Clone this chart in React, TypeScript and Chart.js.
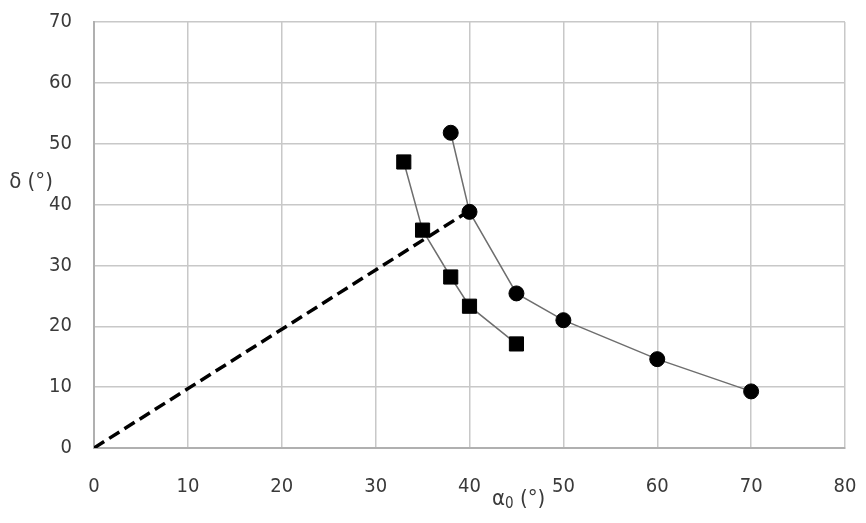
import { useEffect, useRef } from "react";
import { Chart, registerables, type Plugin } from "chart.js";

Chart.register(...registerables);

const circleX = [38, 40, 45, 50, 60, 70];
const circleY = [51.8, 38.8, 25.4, 21.0, 14.6, 9.3];
const squareX = [33, 35, 38, 40, 45];
const squareY = [47.0, 35.8, 28.1, 23.3, 17.1];
const dashX = [0, 40];
const dashY = [0, 39];

const FONT = "'Liberation Sans Narrow', 'DejaVu Sans Condensed', 'Liberation Sans', sans-serif";
const TEXT = "#3a3a3a";

const pts = (xs: number[], ys: number[]) => xs.map((x, i) => ({ x, y: ys[i] }));

// axis titles sit in odd spots in the original, so draw them by hand
const titles: Plugin<"scatter"> = {
  id: "titles",
  afterDraw(chart) {
    const { ctx, chartArea, scales } = chart;
    ctx.save();
    ctx.fillStyle = TEXT;
    ctx.textBaseline = "middle";
    ctx.font = `22px ${FONT}`;
    ctx.textAlign = "center";
    ctx.fillText("δ (°)", 31, scales.y.getPixelForValue(43.6));

    const x0 = scales.x.getPixelForValue(42.4);
    const y0 = chartArea.bottom + 51;
    ctx.textAlign = "left";
    ctx.fillText("α", x0, y0);
    const aw = ctx.measureText("α").width;
    ctx.font = `15px ${FONT}`;
    ctx.fillText("0", x0 + aw, y0 + 5);
    const zw = ctx.measureText("0").width;
    ctx.font = `22px ${FONT}`;
    ctx.fillText(" (°)", x0 + aw + zw, y0);
    ctx.restore();
  },
};

export default function App() {
  const canvasRef = useRef<HTMLCanvasElement>(null);
  const chartRef = useRef<Chart<"scatter"> | null>(null);

  useEffect(() => {
    if (!canvasRef.current) return;

    chartRef.current = new Chart(canvasRef.current, {
      type: "scatter",
      data: {
        datasets: [
          {
            data: pts(circleX, circleY),
            showLine: true,
            borderColor: "#6e6e6e",
            borderWidth: 1.5,
            pointStyle: "circle",
            pointRadius: 7.5,
            pointBackgroundColor: "#000",
            pointBorderColor: "#000",
            pointBorderWidth: 1,
          },
          {
            data: pts(squareX, squareY),
            showLine: true,
            borderColor: "#6e6e6e",
            borderWidth: 1.5,
            pointStyle: "rect",
            pointRadius: 10,
            pointBackgroundColor: "#000",
            pointBorderColor: "#000",
            pointBorderWidth: 1,
          },
          {
            data: pts(dashX, dashY),
            showLine: true,
            borderColor: "#000",
            borderWidth: 3.5,
            borderDash: [12, 6],
            pointRadius: 0,
          },
        ],
      },
      options: {
        animation: false,
        responsive: true,
        maintainAspectRatio: false,
        layout: { padding: { top: 22, right: 21, left: 0, bottom: 0 } },
        plugins: { legend: { display: false }, tooltip: { enabled: false } },
        scales: {
          x: {
            type: "linear",
            min: 0,
            max: 80,
            afterFit: (s) => {
              s.height = 75;
              s.paddingLeft = 0;
              s.paddingRight = 0;
            },
            grid: { color: "#c8c8c8", lineWidth: 1.5, drawTicks: false },
            border: { color: "#b0b0b0", width: 2 },
            ticks: {
              stepSize: 10,
              padding: 27,
              color: TEXT,
              font: { family: FONT, size: 20 },
            },
          },
          y: {
            type: "linear",
            min: 0,
            max: 70,
            afterFit: (s) => {
              s.width = 94;
              s.paddingTop = 0;
              s.paddingBottom = 0;
            },
            grid: { color: "#c8c8c8", lineWidth: 1.5, drawTicks: false },
            border: { color: "#b0b0b0", width: 2 },
            ticks: {
              stepSize: 10,
              padding: 22,
              color: TEXT,
              font: { family: FONT, size: 20 },
            },
          },
        },
      },
      plugins: [titles],
    });

    return () => {
      chartRef.current?.destroy();
    };
  }, []);

  return (
    <div style={{ position: "fixed", left: 0, top: 0, width: 866, height: 523, background: "#fff" }}>
      <canvas ref={canvasRef} role="img" aria-label="delta versus alpha0 chart" />
    </div>
  );
}
